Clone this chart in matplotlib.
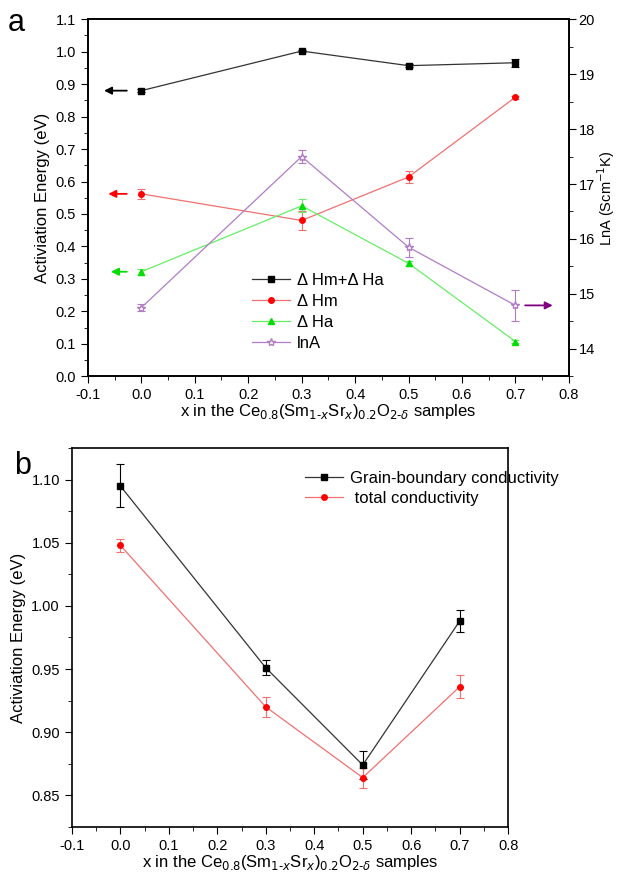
import numpy as np
import matplotlib.pyplot as plt
from matplotlib.ticker import MultipleLocator
from matplotlib.lines import Line2D

plt.rcParams['font.family'] = ['Liberation Sans', 'DejaVu Sans']
plt.rcParams['axes.unicode_minus'] = False

x = [0.0, 0.3, 0.5, 0.7]

# panel a
h_sum = [0.880, 1.002, 0.957, 0.966]
h_sum_err = [0.004, 0.004, 0.005, 0.012]
h_m = [0.562, 0.480, 0.614, 0.860]
h_m_err = [0.015, 0.028, 0.018, 0.005]
h_a = [0.322, 0.525, 0.348, 0.107]
h_a_err = [0.010, 0.020, 0.008, 0.004]
ln_a = [14.75, 17.50, 15.85, 14.79]
ln_a_err = [0.06, 0.12, 0.17, 0.28]

# panel b
gb = [1.095, 0.951, 0.874, 0.988]
gb_err = [0.017, 0.006, 0.011, 0.009]
tot = [1.048, 0.920, 0.864, 0.936]
tot_err = [0.005, 0.008, 0.008, 0.009]

xlabel = r'x in the Ce$_{0.8}$(Sm$_{1\text{-}x}$Sr$_{x}$)$_{0.2}$O$_{2\text{-}\delta}$ samples'
xticks = np.round(np.arange(-0.1, 0.81, 0.1), 1)

fig = plt.figure(figsize=(6.19, 8.75), dpi=100)

ax = fig.add_axes([0.142, 0.570, 0.777, 0.408])
ax2 = ax.twinx()

kw = dict(lw=0.9, ms=4, capsize=3, elinewidth=0.8, capthick=0.8)
styles = [
    dict(color='#333333', mfc='black', mec='black', marker='s', ms=4),
    dict(color='#f07070', mfc='red', mec='red', marker='o', ms=4),
    dict(color='#66ee66', mfc='#00dd00', mec='#00dd00', marker='^', ms=4.5),
    dict(color='#b07cc6', mfc='white', mec='#b07cc6', marker='*', ms=6),
]
ax.errorbar(x, h_sum, yerr=h_sum_err, ecolor='black', **dict(kw, **styles[0]))
ax.errorbar(x, h_m, yerr=h_m_err, ecolor='#f07070', **dict(kw, **styles[1]))
ax.errorbar(x, h_a, yerr=h_a_err, ecolor='#66ee66', **dict(kw, **styles[2]))
ax2.errorbar(x, ln_a, yerr=ln_a_err, ecolor='#b07cc6', **dict(kw, **styles[3]))

ax.set_xlim(-0.1, 0.8)
ax.set_ylim(0.0, 1.1)
ax2.set_ylim(13.5, 20)
ax.set_xticks(xticks)
ax.set_xticklabels(['%.1f' % v for v in xticks])
ax.xaxis.set_minor_locator(MultipleLocator(0.05))
yt = np.round(np.arange(0, 1.11, 0.1), 1)
ax.set_yticks(yt)
ax.set_yticklabels(['%.1f' % v for v in yt])
ax.yaxis.set_minor_locator(MultipleLocator(0.05))
ax2.set_yticks(range(14, 21))
ax2.yaxis.set_minor_locator(MultipleLocator(0.5))

ax.set_ylabel('Activiation Energy (eV)', fontsize=12)
ax2.set_ylabel('LnA (Scm$^{-1}$K)', fontsize=10.5)
ax2.yaxis.set_label_coords(1.055, 0.5)
ax.set_xlabel(xlabel, fontsize=12, labelpad=0)

# arrows indicating axes
aprops = dict(arrowstyle='-|>', lw=1.3, mutation_scale=11)
ax.annotate('', xy=(-0.075, h_sum[0]), xytext=(-0.022, h_sum[0]),
            arrowprops=dict(color='black', **aprops))
ax.annotate('', xy=(-0.067, h_m[0]), xytext=(-0.022, h_m[0]),
            arrowprops=dict(color='red', **aprops))
ax.annotate('', xy=(-0.062, h_a[0]), xytext=(-0.022, h_a[0]),
            arrowprops=dict(color='#00dd00', **aprops))
ax2.annotate('', xy=(0.775, ln_a[3]), xytext=(0.713, ln_a[3]),
             arrowprops=dict(color='#800080', **aprops))

labels = ['Δ Hm+Δ Ha', 'Δ Hm', 'Δ Ha', 'lnA']
handles = [Line2D([], [], lw=0.9, **s) for s in styles]
ax.legend(handles, labels, loc='lower left',
          bbox_to_anchor=(0.31, 0.03), frameon=False, fontsize=12,
          handlelength=2.3, handletextpad=0.4, labelspacing=0.35)

for a in (ax, ax2):
    a.tick_params(which='both', direction='out', labelsize=10.5)
    a.tick_params(which='major', length=5)
    a.tick_params(which='minor', length=3)
    for s in a.spines.values():
        s.set_linewidth(1.2)
ax.tick_params(axis='y', which='both', right=False)
ax2.tick_params(axis='y', pad=2)

fig.text(0.013, 0.965, 'a', fontsize=22)

# panel b
bx = fig.add_axes([0.116, 0.055, 0.705, 0.433])
bx.errorbar(x, gb, yerr=gb_err, ecolor='black', **dict(kw, **styles[0]))
bx.errorbar(x, tot, yerr=tot_err, ecolor='#f07070', **dict(kw, **styles[1]))
bx.set_xlim(-0.1, 0.8)
bx.set_ylim(0.825, 1.125)
bx.set_xticks(xticks)
bx.set_xticklabels(['%.1f' % v for v in xticks])
bx.xaxis.set_minor_locator(MultipleLocator(0.05))
bt = [0.85, 0.90, 0.95, 1.00, 1.05, 1.10]
bx.set_yticks(bt)
bx.set_yticklabels(['%.2f' % v for v in bt])
bx.yaxis.set_minor_locator(MultipleLocator(0.025))
bx.tick_params(which='both', direction='out', labelsize=10.5)
bx.tick_params(which='major', length=5)
bx.tick_params(which='minor', length=3)
for s in bx.spines.values():
    s.set_linewidth(1.2)
bx.set_ylabel('Activiation Energy (eV)', fontsize=12)
bx.set_xlabel(xlabel, fontsize=12, labelpad=0)
bhandles = [Line2D([], [], lw=0.9, **styles[0]), Line2D([], [], lw=0.9, **styles[1])]
bx.legend(bhandles, ['Grain-boundary conductivity', ' total conductivity'],
          loc='upper left', bbox_to_anchor=(0.5, 0.98), frameon=False, fontsize=12,
          handlelength=2.3, handletextpad=0.4, labelspacing=0.3)

fig.text(0.022, 0.458, 'b', fontsize=22)

fig.savefig('out.png', dpi=100)
